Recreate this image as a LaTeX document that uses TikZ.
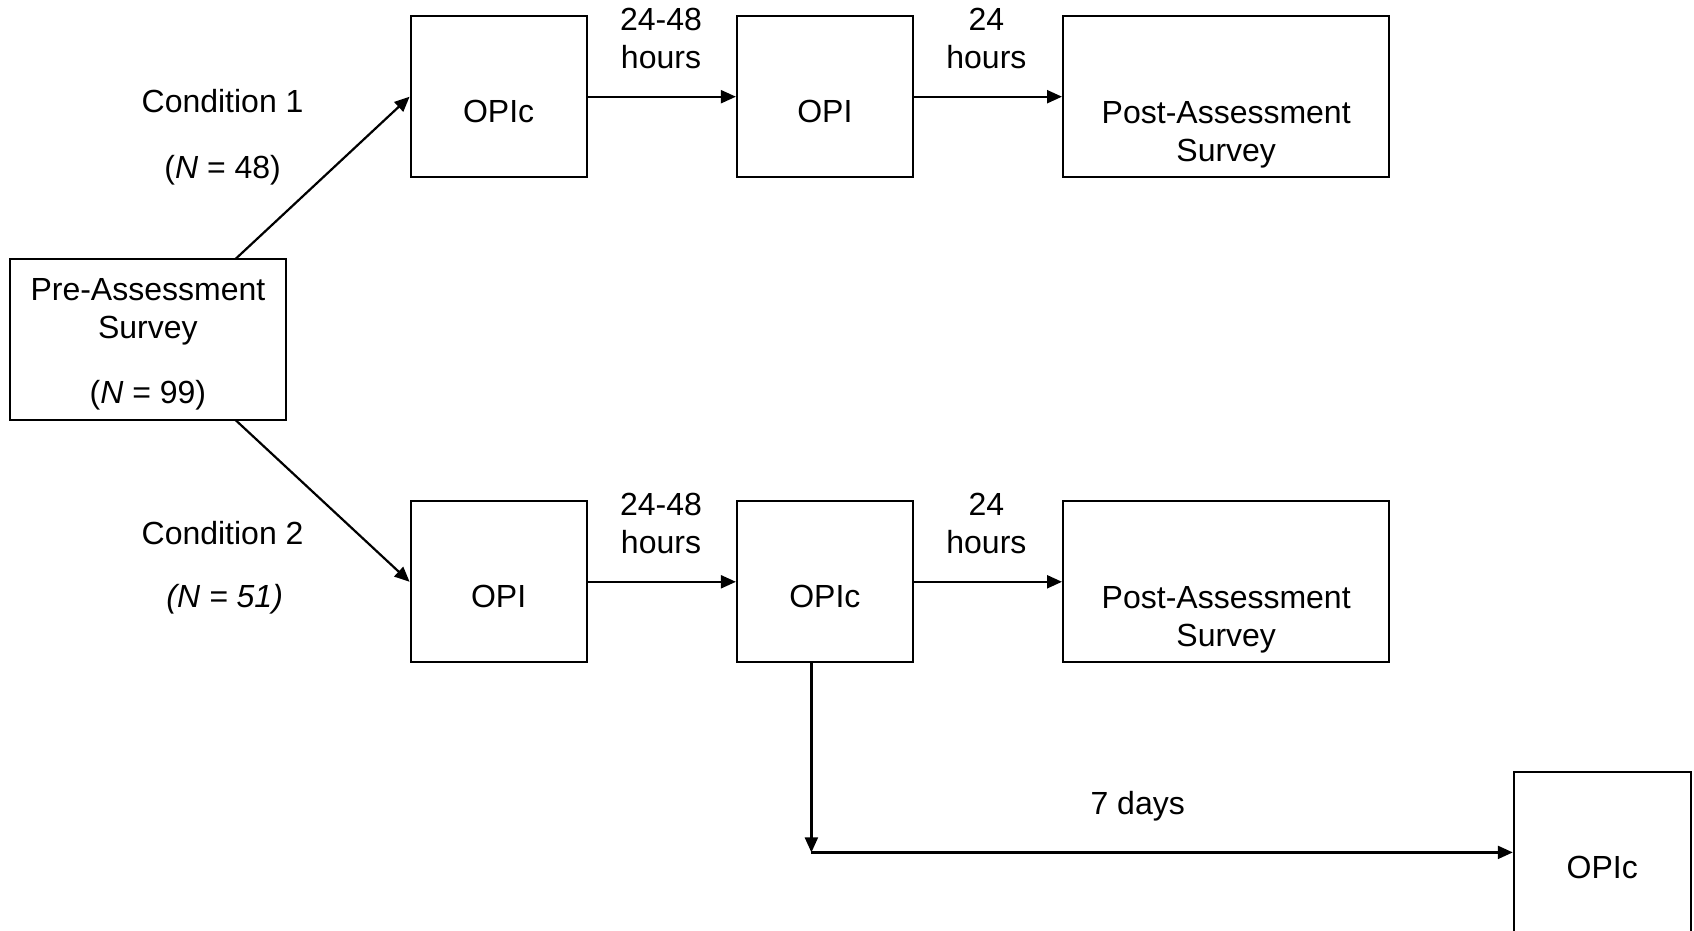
\documentclass[tikz,border=0pt]{standalone}
\usepackage{fontspec}
\setmainfont{Liberation Sans}
\usetikzlibrary{arrows.meta}
\begin{document}
\begin{tikzpicture}[x=0.5pt,y=-0.5pt,
 box/.style={draw,line width=1pt,inner sep=0,minimum height=80.5pt},
 lbl/.style={font=\fontsize{16}{19}\selectfont,align=center,inner sep=0},
 arr/.style={line width=1.1pt,-{Triangle[length=7.5pt,width=6.5pt]}}]
\useasboundingbox (0,0) rectangle (1694,931);
% boxes
\node[box,minimum width=138pt] (pre) at (147.9,339.5) {};
\node[box,minimum width=88pt] (opic1) at (498.6,96.7) {};
\node[box,minimum width=88pt] (opi1) at (824.9,96.7) {};
\node[box,minimum width=163.2pt] (post1) at (1226.2,96.7) {};
\node[box,minimum width=88pt] (opi2) at (498.6,581.8) {};
\node[box,minimum width=88pt] (opic2) at (824.9,581.8) {};
\node[box,minimum width=163.2pt] (post2) at (1226.2,581.8) {};
\node[box,minimum width=88.5pt] (opic3) at (1602.3,852.4) {};
% box texts
\node[lbl] (pret) at (147.9,311.6) {Pre-Assessment\\Survey};
\node[lbl] (pren) at (147.9,395.4) {(\textit{N} = 99)};
\node[lbl] (opic1t) at (498.6,111.8) {OPIc};
\node[lbl] (opi1t) at (824.9,111.8) {OPI};
\node[lbl] (post1t) at (1226.2,134.5) {Post-Assessment\\Survey};
\node[lbl] (opi2t) at (498.6,596.9) {OPI};
\node[lbl] (opic2t) at (824.9,596.9) {OPIc};
\node[lbl] (post2t) at (1226.2,619.6) {Post-Assessment\\Survey};
\node[lbl] (opic3t) at (1602.3,867.4) {OPIc};
% connector labels
\node[lbl] (c1) at (222.6,101.5) {Condition 1};
\node[lbl] (n1) at (222.6,170.5) {(\textit{N} = 48)};
\node[lbl] (c2) at (222.6,532.6) {Condition 2};
\node[lbl] (n2) at (224.7,599.5) {\itshape (N = 51)};
\node[lbl] (h1) at (661,38.3) {24-48\\hours};
\node[lbl] (h2) at (986.4,38.3) {24\\hours};
\node[lbl] (h3) at (661,523.5) {24-48\\hours};
\node[lbl] (h4) at (986.4,523.5) {24\\hours};
\node[lbl] (d7) at (1137.7,806) {7 days};
% connectors
\coordinate (preN) at (235.5,259);
\coordinate (preS) at (235.5,420);
\draw[arr] (preN) -- (opic1.west);
\draw[arr] (preS) -- (opi2.west);
\draw[arr] (opic1.east) -- (opi1.west);
\draw[arr] (opi1.east) -- (post1.west);
\draw[arr] (opi2.east) -- (opic2.west);
\draw[arr] (opic2.east) -- (post2.west);
\coordinate (corner) at (811.4,852.4);
\draw[arr] (opic2.south -| corner) -- (corner);
\draw[arr] (corner) -- (opic3.west);
\end{tikzpicture}
\end{document}
